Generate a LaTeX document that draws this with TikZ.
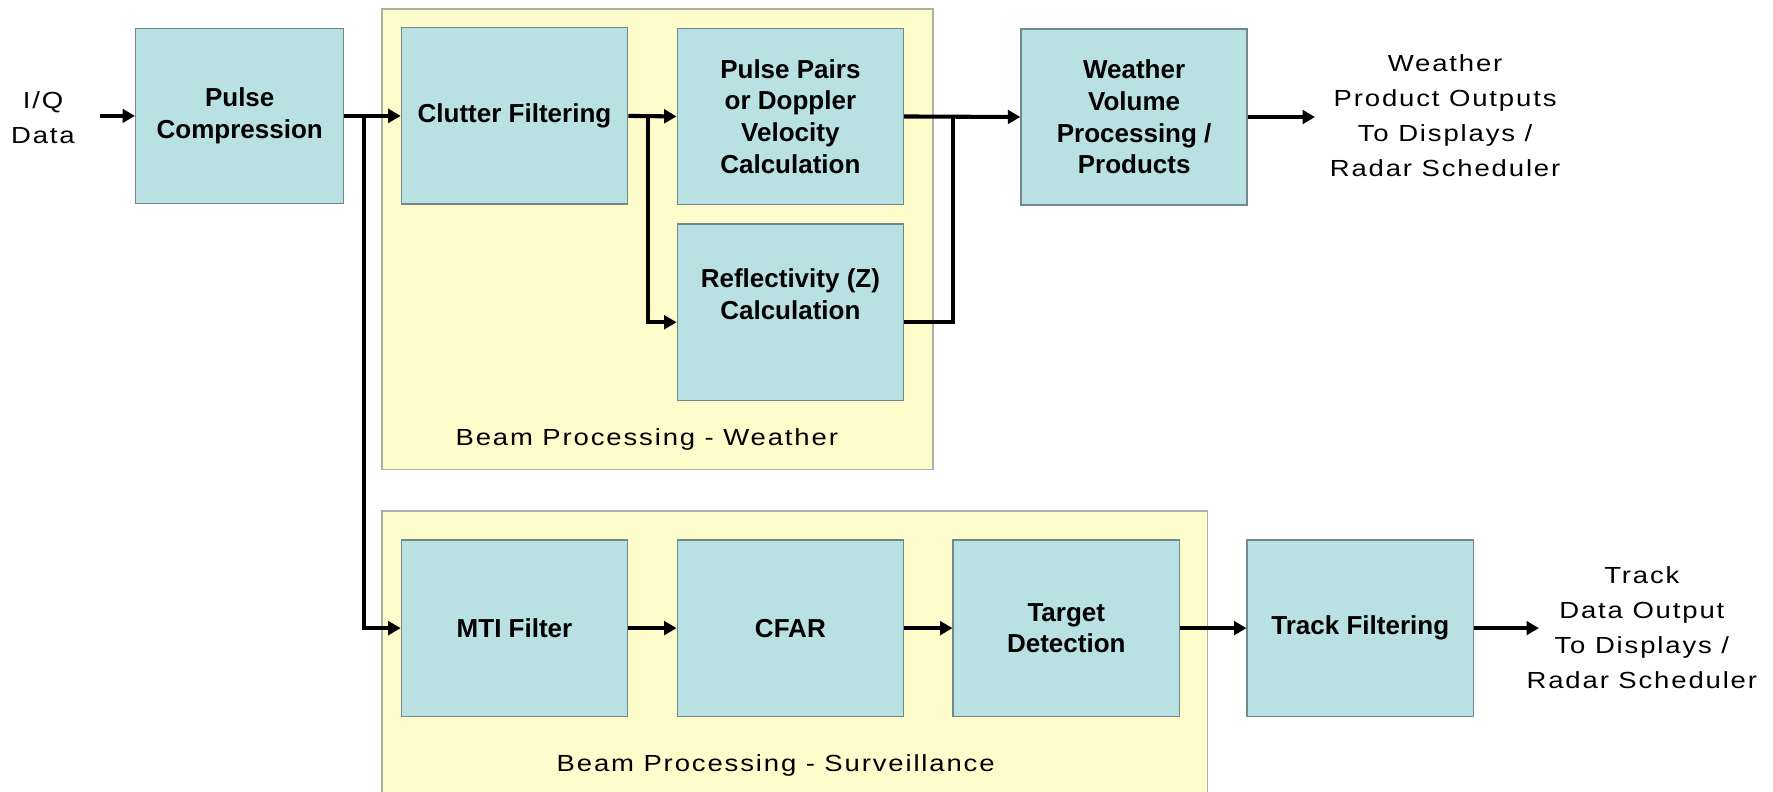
\documentclass[tikz,border=0pt]{standalone}
\usepackage{fontspec}
\setmainfont{Liberation Sans}
\newfontfamily\widefont[LetterSpace=8,FakeStretch=1.18]{Liberation Sans}
\usetikzlibrary{arrows.meta}
\definecolor{boxfill}{RGB}{185,224,227}
\definecolor{boxline}{RGB}{115,135,140}
\definecolor{yelfill}{RGB}{255,252,204}
\definecolor{yelline}{RGB}{175,175,165}
\tikzset{
  blk/.style={draw=boxline, line width=1.3pt, fill=boxfill, minimum width=200pt, minimum height=156pt,
    align=center, inner sep=0pt, font=\fontsize{23}{28}\selectfont\bfseries},
  group/.style={draw=yelline, line width=1.3pt, fill=yelfill, inner sep=0pt},
  plain/.style={align=center, inner sep=0pt, font=\fontsize{20.6}{31}\selectfont\widefont},
  arr/.style={line width=3.6pt, -{Triangle[length=11pt,width=12pt]}},
  ln/.style={line width=3.6pt}
}
\begin{document}
\begin{tikzpicture}[x=1pt,y=-1pt]
\useasboundingbox (0,0) rectangle (1568,700);
% containers
\node[group, minimum width=487pt, minimum height=407pt] (wgrp) at (581.5,211.5) {};
\node[group, minimum width=730pt, minimum height=260pt] (sgrp) at (703,582) {};
\node[plain] (wlab) at (572,389) {Beam Processing - Weather};
\node[plain] (slab) at (686,677) {Beam Processing - Surveillance};
% blocks
\node[blk, minimum width=184pt, minimum height=155pt] (pc) at (212,102.5) {Pulse\\Compression};
\node[blk] (cf) at (455,102.5) {Clutter Filtering};
\node[blk] (pp) at (699,103) {Pulse Pairs\\or Doppler\\Velocity\\Calculation};
\node[blk] (rf) at (699,276) {Reflectivity (Z)\\Calculation\\[-4pt]\strut};
\node[blk] (wv) at (1003,103.5) {Weather\\Volume\\Processing /\\Products};
\node[blk] (mti) at (455,555.5) {MTI Filter};
\node[blk] (cfar) at (699,555.5) {CFAR};
\node[blk] (td) at (943,555.5) {Target\\Detection};
\node[blk] (tf) at (1203,555.5) {Track Filtering};
% free texts
\node[plain] (iq) at (38,104) {I/Q\\Data};
\node[plain] (wout) at (1278,102) {Weather\\Product Outputs\\To Displays /\\Radar Scheduler};
\node[plain] (tout) at (1452,555) {Track\\Data Output\\To Displays /\\Radar Scheduler};
% connector helpers
\coordinate (iqa) at (88,102.5);
\coordinate (j1) at (322,102.5);
\coordinate (j2) at (573,102.5);
\coordinate (j3) at (843,103.5);
\coordinate (wo) at (1163,103.5);
\coordinate (to) at (1361,555.5);
% connectors
\draw[arr] (iqa) -- (pc.west);
\draw[arr] (pc.east) -- (cf.west);
\draw[arr] (j1) |- (mti.west);
\draw[arr] (cf.east) -- (pp.west);
\draw[arr] (j2) |- ([yshift=-9pt]rf.west);
\draw[ln] ([yshift=-9pt]rf.east) -| (j3);
\draw[arr] (pp.east) -- (wv.west);
\draw[arr] (wv.east) -- (wo);
\draw[arr] (mti.east) -- (cfar.west);
\draw[arr] (cfar.east) -- (td.west);
\draw[arr] (td.east) -- (tf.west);
\draw[arr] (tf.east) -- (to);
\end{tikzpicture}
\end{document}
